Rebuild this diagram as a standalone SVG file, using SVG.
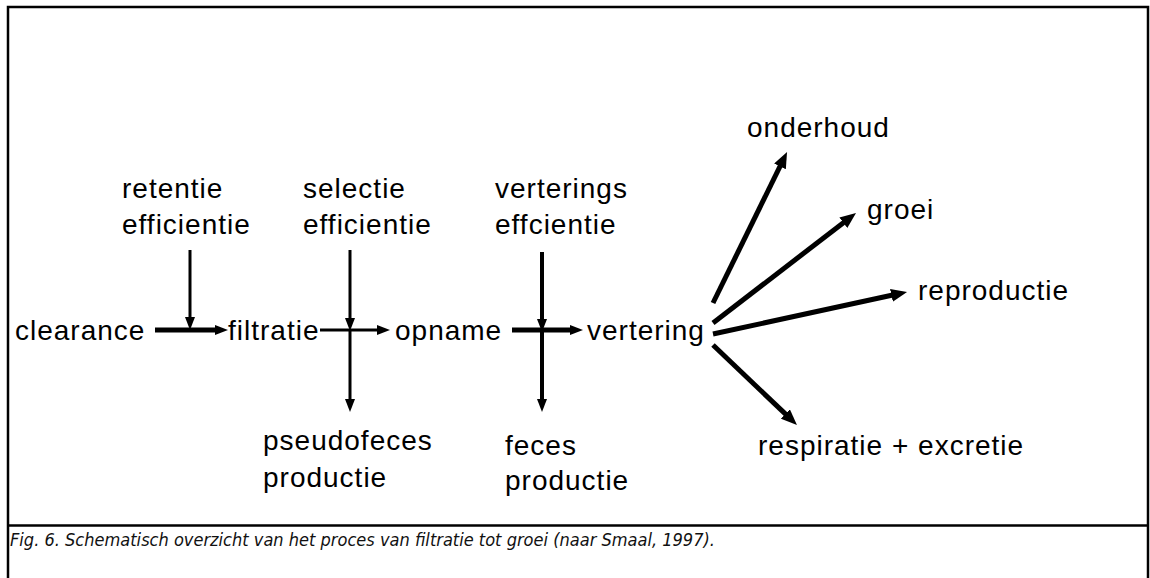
<svg xmlns="http://www.w3.org/2000/svg" width="1150" height="578" viewBox="0 0 1150 578">
<style>
.t{font-family:"Liberation Sans",Arial,sans-serif;font-size:28px;letter-spacing:1px;fill:#000}
.c{font-family:"DejaVu Sans",Verdana,sans-serif;font-style:italic;font-size:17px;fill:#111}
.a{stroke:#000;fill:none}
</style>
<defs>
<marker id="ah" viewBox="0 0 13 10" markerWidth="13" markerHeight="10" refX="4" refY="5" orient="auto" markerUnits="userSpaceOnUse"><path d="M0,0 L13,5 L0,10 z" fill="#000"/></marker>
<marker id="ahL" viewBox="0 0 16 13" markerWidth="16" markerHeight="13" refX="5" refY="6.5" orient="auto" markerUnits="userSpaceOnUse"><path d="M0,0 L16,6.5 L0,13 z" fill="#000"/></marker>
</defs>
<rect width="1150" height="578" fill="#fff"/>
<g id="frame" stroke="#000" stroke-width="2.5" fill="none">
<rect x="8" y="7" width="1140" height="600"/>
<line x1="8" y1="525.5" x2="1148" y2="525.5"/>
</g>
<g id="connectors">
<line class="a" x1="155" y1="330" x2="219" y2="330" stroke-width="5" marker-end="url(#ah)"/>
<line class="a" x1="320" y1="330" x2="381" y2="330" stroke-width="3" marker-end="url(#ah)"/>
<line class="a" x1="512" y1="330" x2="574" y2="330" stroke-width="5" marker-end="url(#ah)"/>
<line class="a" x1="190" y1="250" x2="190" y2="321" stroke-width="3" marker-end="url(#ah)"/>
<line class="a" x1="350" y1="250" x2="350" y2="322" stroke-width="3" marker-end="url(#ah)"/>
<line class="a" x1="350" y1="330" x2="350" y2="403" stroke-width="3" marker-end="url(#ah)"/>
<line class="a" x1="542" y1="252" x2="542" y2="323" stroke-width="4" marker-end="url(#ah)"/>
<line class="a" x1="542" y1="330" x2="542" y2="403" stroke-width="4" marker-end="url(#ah)"/>
<line class="a" x1="713" y1="303" x2="782.2" y2="161.9" stroke-width="5" marker-end="url(#ahL)"/>
<line class="a" x1="713" y1="323" x2="847.3" y2="219.7" stroke-width="5" marker-end="url(#ahL)"/>
<line class="a" x1="713" y1="334" x2="896.3" y2="294.3" stroke-width="5" marker-end="url(#ahL)"/>
<line class="a" x1="713" y1="345" x2="789" y2="417.4" stroke-width="5" marker-end="url(#ahL)"/>
</g>
<g id="clearance"><text class="t" x="15" y="340">clearance</text></g>
<g id="filtratie"><text class="t" x="228" y="340">filtratie</text></g>
<g id="opname"><text class="t" x="395" y="340">opname</text></g>
<g id="vertering"><text class="t" x="587" y="340">vertering</text></g>
<g id="retentie"><text class="t" x="122" y="198">retentie</text><text class="t" x="122" y="234">efficientie</text></g>
<g id="selectie"><text class="t" x="303" y="198">selectie</text><text class="t" x="303" y="234">efficientie</text></g>
<g id="verterings"><text class="t" x="495" y="198">verterings</text><text class="t" x="495" y="234">effcientie</text></g>
<g id="pseudofeces"><text class="t" x="263" y="450">pseudofeces</text><text class="t" x="263" y="487">productie</text></g>
<g id="feces"><text class="t" x="505" y="455">feces</text><text class="t" x="505" y="490">productie</text></g>
<g id="onderhoud"><text class="t" x="747" y="137">onderhoud</text></g>
<g id="groei"><text class="t" x="867" y="219">groei</text></g>
<g id="reproductie"><text class="t" x="918" y="300">reproductie</text></g>
<g id="respiratie"><text class="t" x="758" y="455">respiratie + excretie</text></g>
<g id="caption"><text class="c" x="10" y="546" textLength="705" lengthAdjust="spacingAndGlyphs">Fig. 6. Schematisch overzicht van het proces van filtratie tot groei (naar Smaal, 1997).</text></g>
</svg>
